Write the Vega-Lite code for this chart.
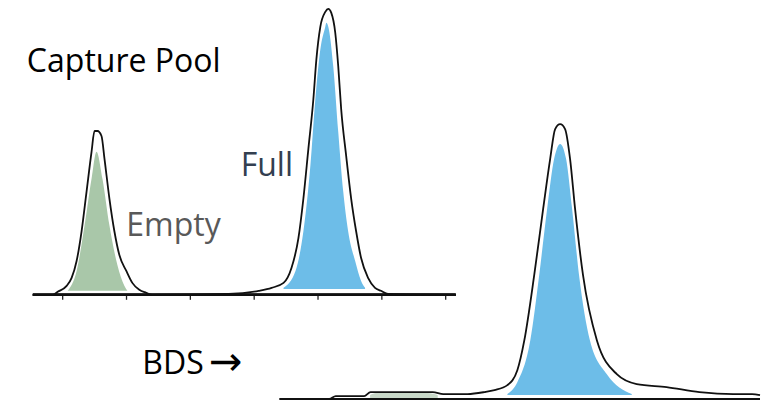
{
  "$schema": "https://vega.github.io/schema/vega-lite/v6.json",
  "width": 764,
  "height": 403,
  "padding": 0,
  "autosize": {"type": "fit", "contains": "padding"},
  "background": "white",
  "config": {"view": {"stroke": null}},
  "datasets": {
    "topTrace": [
      {"t": 0.533, "s": 0}, {"t": 0.844, "s": 0}, {"t": 0.922, "s": 1.01}, {"t": 1.062, "s": 3.03},
      {"t": 1.14, "s": 5.72}, {"t": 1.218, "s": 11.45}, {"t": 1.296, "s": 21.55}, {"t": 1.374, "s": 35.02},
      {"t": 1.452, "s": 48.49}, {"t": 1.499, "s": 55.56}, {"t": 1.545, "s": 55.56}, {"t": 1.608, "s": 53.87},
      {"t": 1.655, "s": 46.13}, {"t": 1.732, "s": 32.66}, {"t": 1.81, "s": 21.55}, {"t": 1.888, "s": 13.47},
      {"t": 1.997, "s": 8.08}, {"t": 2.091, "s": 4.04}, {"t": 2.2, "s": 1.68}, {"t": 2.309, "s": 0.67},
      {"t": 2.403, "s": 0}, {"t": 3.602, "s": 0.3}, {"t": 4.07, "s": 1.35}, {"t": 4.273, "s": 2.36},
      {"t": 4.46, "s": 4.04}, {"t": 4.584, "s": 9.09}, {"t": 4.693, "s": 19.19}, {"t": 4.771, "s": 32.66},
      {"t": 4.849, "s": 49.49}, {"t": 4.927, "s": 66.33}, {"t": 4.974, "s": 79.8}, {"t": 5.036, "s": 90.91},
      {"t": 5.114, "s": 95.96}, {"t": 5.161, "s": 96.97}, {"t": 5.208, "s": 95.62}, {"t": 5.27, "s": 88.89},
      {"t": 5.317, "s": 77.44}, {"t": 5.363, "s": 62.96}, {"t": 5.441, "s": 47.14}, {"t": 5.519, "s": 32.66},
      {"t": 5.597, "s": 21.55}, {"t": 5.675, "s": 12.46}, {"t": 5.784, "s": 5.72}, {"t": 5.893, "s": 2.36},
      {"t": 5.987, "s": 1.35}, {"t": 6.096, "s": 0.3}, {"t": 7.156, "s": 0}
    ],
    "topEmpty": [
      {"t": 1.078, "s": 1.35}, {"t": 1.218, "s": 8.08}, {"t": 1.343, "s": 23.57}, {"t": 1.452, "s": 39.39},
      {"t": 1.53, "s": 48.49}, {"t": 1.623, "s": 39.39}, {"t": 1.732, "s": 23.57}, {"t": 1.857, "s": 10.1},
      {"t": 1.966, "s": 3.03}, {"t": 2.013, "s": 1.35}
    ],
    "topFull": [
      {"t": 4.46, "s": 2.36}, {"t": 4.647, "s": 8.08}, {"t": 4.771, "s": 21.55}, {"t": 4.88, "s": 43.77},
      {"t": 4.958, "s": 66.33}, {"t": 5.036, "s": 83.17}, {"t": 5.114, "s": 90.91}, {"t": 5.13, "s": 92.26},
      {"t": 5.161, "s": 90.91}, {"t": 5.239, "s": 77.44}, {"t": 5.317, "s": 55.22}, {"t": 5.395, "s": 35.02},
      {"t": 5.472, "s": 21.55}, {"t": 5.582, "s": 11.45}, {"t": 5.675, "s": 4.71}, {"t": 5.737, "s": 2.36}
    ],
    "topTicks": [{"t": 1}, {"t": 2}, {"t": 3}, {"t": 4}, {"t": 5}, {"t": 6}, {"t": 7}],
    "topLabels": [
      {"t": 0.439, "s": 75.42, "label": "Capture Pool", "kind": "title"},
      {"t": 3.789, "s": 40.4, "label": "Full", "kind": "full"},
      {"t": 1.997, "s": 19.87, "label": "Empty", "kind": "empty"}
    ],
    "botTrace": [
      {"u": 8.828, "s": 0}, {"u": 10.4, "s": 0}, {"u": 10.6, "s": 1.08}, {"u": 11.5, "s": 1.08},
      {"u": 11.7, "s": 2.53}, {"u": 13.666, "s": 2.53}, {"u": 14.0, "s": 1.81}, {"u": 14.766, "s": 1.81},
      {"u": 15.3, "s": 2.53}, {"u": 15.614, "s": 3.25}, {"u": 16.023, "s": 5.05}, {"u": 16.337, "s": 10.47},
      {"u": 16.557, "s": 21.3}, {"u": 16.871, "s": 45.13}, {"u": 17.154, "s": 69.31}, {"u": 17.374, "s": 87.36},
      {"u": 17.531, "s": 98.19}, {"u": 17.688, "s": 100}, {"u": 17.845, "s": 98.19}, {"u": 18.002, "s": 87.36},
      {"u": 18.159, "s": 69.31}, {"u": 18.41, "s": 45.13}, {"u": 18.85, "s": 21.3}, {"u": 19.478, "s": 9.03},
      {"u": 20.107, "s": 5.42}, {"u": 21.049, "s": 4.33}, {"u": 22.086, "s": 2.53}, {"u": 23.154, "s": 1.81},
      {"u": 23.751, "s": 1.81}, {"u": 24.0, "s": 1.44}
    ],
    "botFull": [
      {"u": 16.023, "s": 1.81}, {"u": 16.337, "s": 6.14}, {"u": 16.745, "s": 21.3}, {"u": 17.028, "s": 45.13},
      {"u": 17.279, "s": 69.31}, {"u": 17.499, "s": 87.36}, {"u": 17.688, "s": 92.78}, {"u": 17.876, "s": 87.36},
      {"u": 18.065, "s": 69.31}, {"u": 18.285, "s": 45.13}, {"u": 18.63, "s": 21.3}, {"u": 19.164, "s": 9.03},
      {"u": 19.95, "s": 1.81}
    ],
    "botEmpty": [
      {"u": 11.687, "s": 1.44}, {"u": 11.876, "s": 2.17}, {"u": 13.509, "s": 2.17}, {"u": 13.823, "s": 1.44}
    ],
    "botLabels": [
      {"u": 4.493, "s": 9.03, "label": "BDS"}
    ],
    "botArrow": [
      {"u": 6.6, "s": 8.6, "label": "\u2192"}
    ]
  },
  "layer": [
    {
      "layer": [
        {
          "data": {"name": "topEmpty"},
          "mark": {"type": "area", "interpolate": "monotone", "color": "#a9c7a9"},
          "encoding": {
            "x": {"field": "t", "type": "quantitative", "scale": {"domain": [0.018, 11.924], "nice": false, "zero": false}, "axis": null},
            "y": {"field": "s", "type": "quantitative", "scale": {"domain": [-35.69, 100], "nice": false, "zero": false}, "axis": null},
            "y2": {"datum": 1.35}
          }
        },
        {
          "data": {"name": "topFull"},
          "mark": {"type": "area", "interpolate": "monotone", "color": "#6dbde8"},
          "encoding": {
            "x": {"field": "t", "type": "quantitative"},
            "y": {"field": "s", "type": "quantitative"},
            "y2": {"datum": 2.0}
          }
        },
        {
          "data": {"name": "topTicks"},
          "mark": {"type": "rule", "color": "#222222", "strokeWidth": 1.3},
          "encoding": {
            "x": {"field": "t", "type": "quantitative"},
            "y": {"datum": 0},
            "y2": {"datum": -1.7}
          }
        },
        {
          "data": {"name": "topTicks"},
          "mark": {"type": "rule", "color": "#111111", "strokeWidth": 2},
          "encoding": {
            "x": {"datum": 0.533},
            "x2": {"datum": 7.156},
            "y": {"datum": 0}
          }
        },
        {
          "data": {"name": "topTrace"},
          "mark": {"type": "line", "interpolate": "monotone", "color": "#111111", "strokeWidth": 1.8},
          "encoding": {
            "x": {"field": "t", "type": "quantitative"},
            "y": {"field": "s", "type": "quantitative"}
          }
        },
        {
          "data": {"name": "topLabels"},
          "mark": {"type": "text", "align": "left", "baseline": "alphabetic", "font": "Open Sans", "fontSize": 32},
          "encoding": {
            "x": {"field": "t", "type": "quantitative"},
            "y": {"field": "s", "type": "quantitative"},
            "text": {"field": "label"},
            "color": {"field": "kind", "type": "nominal", "scale": {"domain": ["title", "full", "empty"], "range": ["#000000", "#333f50", "#595959"]}, "legend": null}
          }
        }
      ]
    },
    {
      "layer": [
        {
          "data": {"name": "botEmpty"},
          "mark": {"type": "area", "interpolate": "monotone", "color": "#c9d9c9"},
          "encoding": {
            "x": {"field": "u", "type": "quantitative", "scale": {"domain": [0, 24], "nice": false, "zero": false}, "axis": null},
            "y": {"field": "s", "type": "quantitative", "scale": {"domain": [-0.36, 145.13], "nice": false, "zero": false}, "axis": null},
            "y2": {"datum": 0.3}
          }
        },
        {
          "data": {"name": "botFull"},
          "mark": {"type": "area", "interpolate": "monotone", "color": "#6dbde8"},
          "encoding": {
            "x": {"field": "u", "type": "quantitative"},
            "y": {"field": "s", "type": "quantitative"},
            "y2": {"datum": 1.5}
          }
        },
        {
          "data": {"name": "botLabels"},
          "mark": {"type": "rule", "color": "#111111", "strokeWidth": 2},
          "encoding": {
            "x": {"datum": 8.828},
            "x2": {"datum": 24},
            "y": {"datum": 0}
          }
        },
        {
          "data": {"name": "botTrace"},
          "mark": {"type": "line", "interpolate": "monotone", "color": "#111111", "strokeWidth": 1.8},
          "encoding": {
            "x": {"field": "u", "type": "quantitative"},
            "y": {"field": "s", "type": "quantitative"}
          }
        },
        {
          "data": {"name": "botLabels"},
          "mark": {"type": "text", "align": "left", "baseline": "alphabetic", "font": "Open Sans", "fontSize": 32, "color": "#000000"},
          "encoding": {
            "x": {"field": "u", "type": "quantitative"},
            "y": {"field": "s", "type": "quantitative"},
            "text": {"field": "label"}
          }
        },
        {
          "data": {"name": "botArrow"},
          "mark": {"type": "text", "align": "left", "baseline": "alphabetic", "font": "DejaVu Sans", "fontSize": 40, "color": "#000000"},
          "encoding": {
            "x": {"field": "u", "type": "quantitative"},
            "y": {"field": "s", "type": "quantitative"},
            "text": {"field": "label"}
          }
        }
      ]
    }
  ],
  "resolve": {"scale": {"x": "independent", "y": "independent", "color": "independent"}}
}
